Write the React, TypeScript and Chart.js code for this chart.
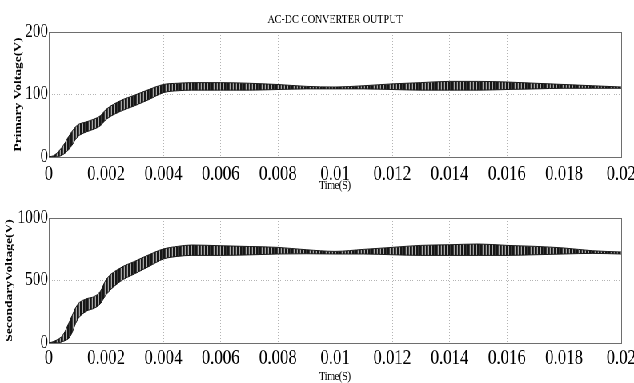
import React, { useEffect, useRef } from 'react';
import { Chart, registerables } from 'chart.js';

Chart.register(...registerables);

// ---- data (envelope of the ripple band) ----
const times = [0, 0.0002, 0.0005, 0.00075, 0.001, 0.0013, 0.0016, 0.0018, 0.002, 0.0025, 0.003, 0.0035, 0.004, 0.0045, 0.005, 0.006, 0.007, 0.008, 0.009, 0.01, 0.011, 0.012, 0.013, 0.014, 0.015, 0.016, 0.017, 0.018, 0.019, 0.02];
const primaryUpper = [0, 3, 18, 37, 51, 56, 61, 66, 76, 90, 99, 108, 116, 118, 119, 119, 118, 116, 113, 112, 114, 117, 119, 121, 121, 120, 118, 116, 114, 112];
const primaryLower = [0, 0, 4, 15, 32, 40, 45, 50, 60, 73, 82, 92, 103, 106, 107, 107, 107, 108, 109, 109, 109, 108, 107, 107, 107, 108, 109, 110, 110, 110];
const secondaryUpper = [0, 15, 66, 186, 306, 352, 373, 413, 506, 600, 653, 706, 752, 773, 784, 778, 772, 765, 746, 733, 749, 765, 781, 786, 792, 781, 773, 760, 738, 728];
const secondaryLower = [0, 0, 13, 53, 186, 253, 280, 314, 386, 493, 554, 613, 672, 693, 701, 701, 705, 712, 714, 712, 712, 706, 701, 701, 701, 701, 706, 712, 717, 712];

const xTickValues = [0, 0.002, 0.004, 0.006, 0.008, 0.01, 0.012, 0.014, 0.016, 0.018, 0.02];
const xTickLabels = ['0', '0.002', '0.004', '0.006', '0.008', '0.01', '0.012', '0.014', '0.016', '0.018', '0.02'];
const primaryTicks = [0, 100, 200];
const secondaryTicks = [0, 500, 1000];

const chartTitle = 'AC-DC CONVERTER OUTPUT';
const xTitle = 'Time(S)';
const primaryTitle = 'Primary Voltage(V)';
const secondaryTitle = 'SecondaryVoltage(V)';

// ---- presentation ----
const W = 792;
const SX = 634 / W;
const SERIF = "'Liberation Serif', 'Times New Roman', serif";
const FRAME = '#6e6e6e';
const GRID = '#b4b4b4';

function makePattern(): CanvasPattern | string {
  const c = document.createElement('canvas');
  c.width = 4;
  c.height = 1;
  const g = c.getContext('2d');
  if (!g) return '#444';
  const cols = ['#161616', '#161616', '#3c3c3c', '#a8a8a8'];
  cols.forEach((col, i) => {
    g.fillStyle = col;
    g.fillRect(i, 0, 1, 1);
  });
  return g.createPattern(c, 'repeat') || '#444';
}

type Panel = {
  upper: number[];
  lower: number[];
  yTicks: number[];
  yMax: number;
  yTitle: string;
  yTitlePad: number;
  title?: string;
  topH: number;
  bottomH: number;
  tickPad: number;
};

function buildConfig(p: Panel): any {
  const pattern = makePattern();
  const fixH = (h: number) => (s: any) => {
    s.height = h;
    s.paddingLeft = 0;
    s.paddingRight = 0;
    s.paddingTop = 0;
    s.paddingBottom = 0;
  };
  const fixW = (w: number) => (s: any) => {
    s.width = w;
    s.paddingLeft = 0;
    s.paddingRight = 0;
    s.paddingTop = 0;
    s.paddingBottom = 0;
  };
  return {
    type: 'line',
    data: {
      datasets: [
        {
          data: times.map((t, i) => ({ x: t, y: p.lower[i] })),
          borderColor: '#1a1a1a',
          borderWidth: 1,
          pointRadius: 0,
          fill: false,
          cubicInterpolationMode: 'monotone',
        },
        {
          data: times.map((t, i) => ({ x: t, y: p.upper[i] })),
          borderColor: '#1a1a1a',
          borderWidth: 1,
          pointRadius: 0,
          fill: '-1',
          backgroundColor: pattern,
          cubicInterpolationMode: 'monotone',
        },
      ],
    },
    options: {
      animation: false,
      responsive: true,
      maintainAspectRatio: false,
      events: [],
      layout: { padding: { left: 0, right: 16, top: 0, bottom: 0 } },
      plugins: { legend: { display: false }, tooltip: { enabled: false }, title: { display: false } },
      scales: {
        x: {
          type: 'linear',
          position: 'bottom',
          min: 0,
          max: 0.02,
          afterBuildTicks: (s: any) => {
            s.ticks = xTickValues.map((v) => ({ value: v }));
          },
          ticks: {
            callback: (_v: any, i: number) => xTickLabels[i],
            font: { family: SERIF, size: 21, lineHeight: 1 },
            color: '#000',
            padding: p.tickPad,
            maxRotation: 0,
            autoSkip: false,
          },
          grid: { color: GRID, lineWidth: 1, drawTicks: false },
          border: { display: true, color: FRAME, dash: [1, 2] },
          title: { display: true, text: xTitle, font: { family: SERIF, size: 12, lineHeight: 1 }, color: '#000', padding: 0 },
          afterFit: fixH(p.bottomH),
        },
        x2: {
          type: 'linear',
          position: 'top',
          min: 0,
          max: 0.02,
          ticks: { display: false },
          grid: { display: false },
          border: { display: true, color: FRAME },
          title: p.title
            ? { display: true, text: p.title, font: { family: SERIF, size: 12.5, lineHeight: 1 }, color: '#000', padding: { top: 13, bottom: 0 } }
            : { display: false },
          afterFit: fixH(p.topH),
        },
        y: {
          type: 'linear',
          position: 'left',
          min: 0,
          max: p.yMax,
          afterBuildTicks: (s: any) => {
            s.ticks = p.yTicks.map((v) => ({ value: v }));
          },
          ticks: {
            callback: (v: any) => String(v),
            font: { family: SERIF, size: 19, lineHeight: 1 },
            color: '#000',
            padding: 1,
          },
          grid: { color: GRID, lineWidth: 1, drawTicks: false },
          border: { display: true, color: FRAME, dash: [1, 2] },
          title: {
            display: true,
            text: p.yTitle,
            font: { family: SERIF, size: 13.5, weight: 'bold', lineHeight: 1 },
            color: '#000',
            padding: { top: p.yTitlePad, bottom: 0 },
          },
          afterFit: fixW(61),
        },
        y2: {
          type: 'linear',
          position: 'right',
          min: 0,
          max: p.yMax,
          ticks: { display: false },
          grid: { display: false },
          border: { display: true, color: FRAME },
          afterFit: fixW(0),
        },
      },
    },
  };
}

export default function App() {
  const topRef = useRef<HTMLCanvasElement | null>(null);
  const botRef = useRef<HTMLCanvasElement | null>(null);

  useEffect(() => {
    if (!topRef.current || !botRef.current) return;
    const c1 = new Chart(
      topRef.current,
      buildConfig({
        upper: primaryUpper,
        lower: primaryLower,
        yTicks: primaryTicks,
        yMax: 200,
        yTitle: primaryTitle,
        yTitlePad: 16,
        title: chartTitle,
        topH: 32,
        bottomH: 35,
        tickPad: 6.5,
      })
    );
    const c2 = new Chart(
      botRef.current,
      buildConfig({
        upper: secondaryUpper,
        lower: secondaryLower,
        yTicks: secondaryTicks,
        yMax: 1000,
        yTitle: secondaryTitle,
        yTitlePad: 4.5,
        topH: 26,
        bottomH: 40,
        tickPad: 4.5,
      })
    );
    return () => {
      c1.destroy();
      c2.destroy();
    };
  }, []);

  return (
    <div style={{ position: 'fixed', top: 0, left: 0, width: 634, height: 383, overflow: 'hidden', background: '#fff' }}>
      <div style={{ width: W, height: 383, transform: `scaleX(${SX})`, transformOrigin: '0 0' }}>
        <div style={{ position: 'relative', width: W, height: 192 }}>
          <canvas ref={topRef} style={{ display: 'block' }} />
        </div>
        <div style={{ position: 'relative', width: W, height: 191 }}>
          <canvas ref={botRef} style={{ display: 'block' }} />
        </div>
      </div>
    </div>
  );
}
